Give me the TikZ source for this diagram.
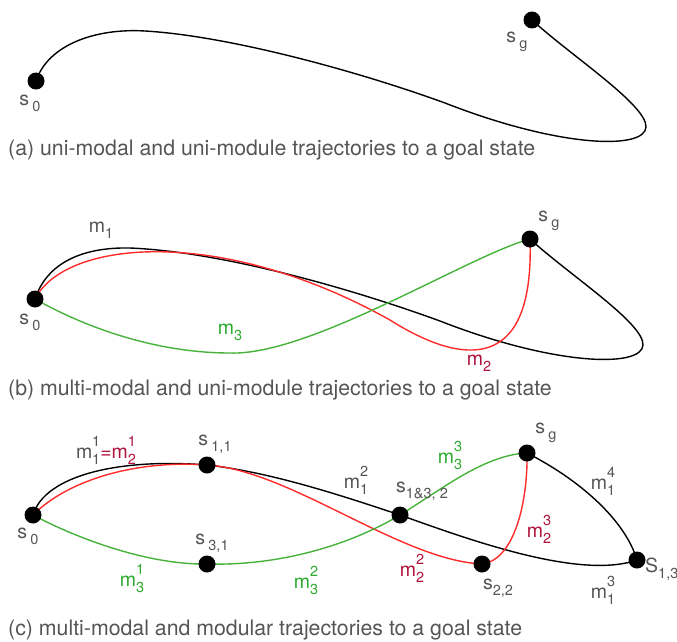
\documentclass[tikz,border=0pt]{standalone}
\usepackage{fontspec}
\setmainfont{TeX Gyre Heros}
\usetikzlibrary{backgrounds}
\definecolor{txt}{HTML}{555555}
\definecolor{lred}{HTML}{FF2B2B}
\definecolor{lgreen}{HTML}{47B23A}
\definecolor{tred}{HTML}{B0143C}
\definecolor{tgreen}{HTML}{2EAA2E}
\newcommand{\smallfs}{\fontsize{14.5}{14.5}\selectfont}
\newcommand{\sbl}[2]{#1\,\raisebox{-0.32em}{\smallfs #2}}
\newcommand{\sbt}[2]{#1\raisebox{-0.32em}{\smallfs #2}}
\newcommand{\mss}[3]{#1\rlap{\raisebox{0.62em}{\smallfs #3}}\raisebox{-0.3em}{\smallfs #2}}
\tikzset{
  dot/.style={circle,fill=black,inner sep=0pt,minimum size=17pt},
  traj/.style={line width=1.4pt},
  lbl/.style={text=txt,font=\fontsize{19.5}{19.5}\selectfont,inner sep=0pt},
  captext/.style={text=txt,font=\fontsize{21.3}{21.3}\selectfont,inner sep=0pt,anchor=west}
}
\begin{document}
\begin{tikzpicture}[x=1pt,y=-1pt]
\useasboundingbox (0,0) rectangle (677,642);
% ---------- panel (a)
\node[dot] (a0) at (36,81) {};
\node[dot] (ag) at (532,20) {};
\begin{pgfonlayer}{background}
\draw[traj] (a0.center) .. controls (48,45) and (95,28) .. (145,31)
  .. controls (230,36) and (360,72) .. (445,103)
  .. controls (560,148) and (645,150) .. (646,127)
  .. controls (647,105) and (570,55) .. (ag.center);
\end{pgfonlayer}
\node[lbl] (la0) at (30,103) {\sbl{s}{0}};
\node[lbl] (lag) at (517,42) {\sbl{s}{g}};
\node[captext] (capa) at (8,150) {(a) uni-modal and uni-module trajectories to a goal state};
% ---------- panel (b)
\node[dot] (b0) at (35,299) {};
\node[dot] (bg) at (530,239) {};
\begin{pgfonlayer}{background}
\draw[traj] (b0.center) .. controls (47,263) and (82,247) .. (130,248)
  .. controls (225,252) and (355,290) .. (440,321)
  .. controls (555,366) and (642,368) .. (643,345)
  .. controls (644,323) and (568,274) .. (bg.center);
\draw[traj,lred] (b0.center) .. controls (65,240) and (220,225) .. (390,320)
  .. controls (450,358) and (535,385) .. (bg.center);
\draw[traj,lgreen] (b0.center) .. controls (90,330) and (160,353) .. (230,353)
  .. controls (310,356) and (470,255) .. (bg.center);
\end{pgfonlayer}
\node[lbl] (lm1) at (101,230) {\sbt{m}{1}};
\node[lbl] (lb0) at (30,322) {\sbl{s}{0}};
\node[lbl] (lbg) at (549,221) {\sbl{s}{g}};
\node[lbl,text=tgreen] (lm3) at (230,332) {\sbt{m}{3}};
\node[lbl,text=tred] (lm2) at (479,363) {\sbt{m}{2}};
\node[captext] (capb) at (8,390) {(b) multi-modal and uni-module trajectories to a goal state};
% ---------- panel (c)
\node[dot] (c0) at (33,515) {};
\node[dot] (c11) at (207,465) {};
\node[dot] (c31) at (207,564) {};
\node[dot] (c132) at (400,515) {};
\node[dot] (c22) at (482,564) {};
\node[dot] (cg) at (527,453) {};
\node[dot] (c13) at (637,560) {};
\begin{pgfonlayer}{background}
\draw[traj] (c0.center) .. controls (45,475) and (120,458) .. (c11.center);
\draw[traj] (c11.center) .. controls (270,472) and (340,495) .. (c132.center);
\draw[traj] (c132.center) .. controls (470,540) and (580,580) .. (c13.center);
\draw[traj] (c13.center) .. controls (625,520) and (580,480) .. (cg.center);
\draw[traj,lred] (c0.center) .. controls (70,478) and (140,460) .. (c11.center);
\draw[traj,lred] (c11.center) .. controls (290,470) and (400,560) .. (c22.center);
\draw[traj,lred] (c22.center) .. controls (515,560) and (528,500) .. (cg.center);
\draw[traj,lgreen] (c0.center) .. controls (80,540) and (150,565) .. (c31.center);
\draw[traj,lgreen] (c31.center) .. controls (280,566) and (350,545) .. (c132.center);
\draw[traj,lgreen] (c132.center) .. controls (445,487) and (485,455) .. (cg.center);
\end{pgfonlayer}
\node[lbl] (lm11) at (106,450) {\mss{m}{1}{1}\textcolor{tred}{=\mss{m}{2}{1}}};
\node[lbl] (ls11) at (215,444) {\sbl{s}{1,1}};
\node[lbl] (lc0) at (28,536) {\sbl{s}{0}};
\node[lbl] (ls31) at (212,543) {\sbl{s}{3,1}};
\node[lbl,text=tgreen] (lm31) at (132,578) {\mss{m}{3}{1}};
\node[lbl,text=tgreen] (lm32) at (306,580) {\mss{m}{3}{2}};
\node[lbl,text=tgreen] (lm33) at (450,455) {\mss{m}{3}{3}};
\node[lbl] (lm12) at (356,480) {\mss{m}{1}{2}};
\node[lbl] (ls132) at (422,491) {\sbt{s}{1\&3, 2}};
\node[lbl] (lcg) at (546,433) {\sbl{s}{g}};
\node[lbl] (lm14) at (603,481) {\mss{m}{1}{4}};
\node[lbl,text=tred] (lm23) at (539,529) {\mss{m}{2}{3}};
\node[lbl,text=tred] (lm22) at (412,568) {\mss{m}{2}{2}};
\node[lbl] (ls22) at (498,588) {\sbt{s}{2,2}};
\node[lbl,anchor=west] (ls13) at (645,569) {\sbt{S}{1,3}};
\node[lbl] (lm13) at (603,590) {\mss{m}{1}{3}};
\node[captext] (capc) at (8,630) {(c) multi-modal and modular trajectories to a goal state};
\end{tikzpicture}
\end{document}
